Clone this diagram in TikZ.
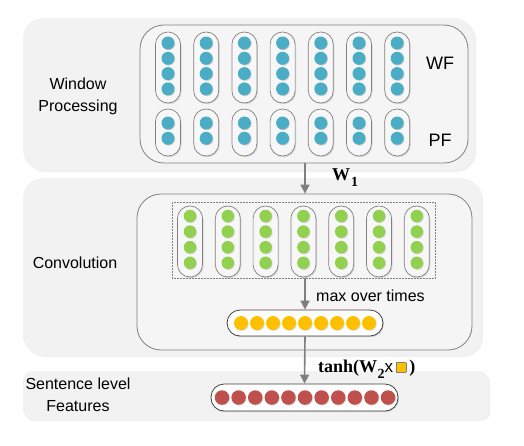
\documentclass[tikz,border=0pt]{standalone}
\usepackage{fontspec}
\setmainfont{Liberation Sans}
\newfontfamily\serifb{Liberation Serif}
\usetikzlibrary{arrows.meta,shadows}
\definecolor{panelgray}{HTML}{F2F2F2}
\definecolor{innergray}{HTML}{F5F5F5}
\definecolor{edgegray}{HTML}{808080}
\definecolor{arrowgray}{HTML}{7F7F7F}
\definecolor{bluec}{HTML}{4BACC6}
\definecolor{greenc}{HTML}{92D050}
\definecolor{orangec}{HTML}{FFC000}
\definecolor{redc}{HTML}{C0504D}
\tikzset{
  panel/.style={fill=panelgray, draw=none, rounded corners=20pt, inner sep=0,
    drop shadow={shadow xshift=2pt, shadow yshift=-2pt, opacity=0.12}},
  innerbox/.style={fill=innergray, draw=edgegray, line width=0.8pt, rounded corners=24pt, inner sep=0},
  capsule/.style={draw=edgegray, fill=white!97!black, line width=0.7pt, inner sep=0,
    drop shadow={shadow xshift=1pt, shadow yshift=-1.2pt, opacity=0.25}},
  hcapsule/.style={draw=black!75, fill=white, line width=0.8pt, inner sep=0, rounded corners=13pt,
    drop shadow={shadow xshift=1pt, shadow yshift=-1.2pt, opacity=0.25}},
  dotc/.style={circle, inner sep=0, draw=none,
    drop shadow={shadow xshift=0.7pt, shadow yshift=-0.8pt, opacity=0.3}},
  arr/.style={draw=arrowgray, line width=1.6pt, -{Triangle[width=9pt,length=9pt]}},
  lbl/.style={font=\fontsize{16}{22}\selectfont, align=center, inner sep=0},
  bigl/.style={font=\fontsize{18}{22}\selectfont, inner sep=0},
  mathl/.style={font=\serifb\bfseries\fontsize{18}{22}\selectfont, inner sep=0}
}
\begin{document}
\begin{tikzpicture}[x=1pt,y=-1pt]
\useasboundingbox (0,0) rectangle (524,445);
% panels
\node[panel, minimum width=451pt, minimum height=152pt] (p1) at (248.5,94) {};
\node[panel, minimum width=458pt, minimum height=177pt] (p2) at (252,266.5) {};
\node[panel, rounded corners=9pt, minimum width=465pt, minimum height=48pt] (p3) at (255.5,395) {};
% inner boxes
\node[innerbox, minimum width=328pt, minimum height=138pt] (in1) at (304,94) {};
\node[innerbox, minimum width=335pt, minimum height=156pt] (in2) at (304.5,272) {};
\node[draw=edgegray, densely dotted, line width=0.5pt, inner sep=0, minimum width=263pt, minimum height=76pt] (dash) at (303.5,240) {};
% WF capsules
\foreach \i in {0,...,6}{
  \pgfmathsetmacro\cx{168+38.2*\i}
  \node[capsule, rounded corners=12.4pt, minimum width=25pt, minimum height=71pt] (wf\i) at (\cx,67.5) {};
  \foreach \j in {0,...,3}{
    \node[dotc, fill=bluec, minimum size=13pt] (wf\i-\j) at (\cx,43+15.3*\j) {};
  }
  \node[capsule, rounded corners=12.4pt, minimum width=25pt, minimum height=47pt] (pf\i) at (\cx,132.5) {};
  \foreach \j in {0,1}{
    \node[dotc, fill=bluec, minimum size=13pt] (pf\i-\j) at (\cx,123+15.3*\j) {};
  }
}
% green capsules
\foreach \i in {0,...,6}{
  \pgfmathsetmacro\cx{190+37.8*\i}
  \node[capsule, rounded corners=12.4pt, minimum width=25pt, minimum height=71pt] (cv\i) at (\cx,241.5) {};
  \foreach \j in {0,...,3}{
    \node[dotc, fill=greenc, minimum size=12.5pt] (cv\i-\j) at (\cx,216+15.6*\j) {};
  }
}
% orange capsule
\node[hcapsule, minimum width=156pt, minimum height=26pt] (ocap) at (305,323) {};
\foreach \k in {0,...,8}{
  \node[dotc, fill=orangec, minimum size=14pt] (od\k) at (241+16*\k,323) {};
}
% red capsule
\node[hcapsule, minimum width=187pt, minimum height=27pt] (rcap) at (304.5,397.5) {};
\foreach \k in {0,...,10}{
  \node[dotc, fill=redc, minimum size=14.5pt] (rd\k) at (222+16.6*\k,397.5) {};
}
% arrows
\draw[arr] (in1.south -| ocap) -- (in2.north -| ocap);
\draw[arr] (dash.south -| ocap) -- (ocap.north);
\draw[arr] (ocap.south) -- (rcap.north);
% labels
\node[lbl] (lwin) at (78,96) {Window\\Processing};
\node[lbl] (lconv) at (75,263) {Convolution};
\node[lbl] (lsent) at (78,395) {Sentence level\\Features};
\node[bigl] (lwf) at (440,63) {WF};
\node[bigl] (lpf) at (440,140) {PF};
\node[mathl, anchor=base west] (lw1) at (332,180) {W\kern1pt\raisebox{-6pt}{\fontsize{14}{14}\selectfont 1}};
\node[mathl, anchor=base west] (ltanh) at (318,372) {tanh(W\kern0.5pt\raisebox{-6pt}{\fontsize{14}{14}\selectfont 2}{\rmfamily\mdseries\fontsize{17}{17}\selectfont x}\,{\setlength\fboxsep{0pt}\setlength\fboxrule{0.8pt}\fcolorbox{edgegray}{orangec}{\rule{0pt}{9pt}\rule{8.5pt}{0pt}}}\,)};
\node[lbl, anchor=west] (lmax) at (316,296) {max over times};
\end{tikzpicture}
\end{document}
